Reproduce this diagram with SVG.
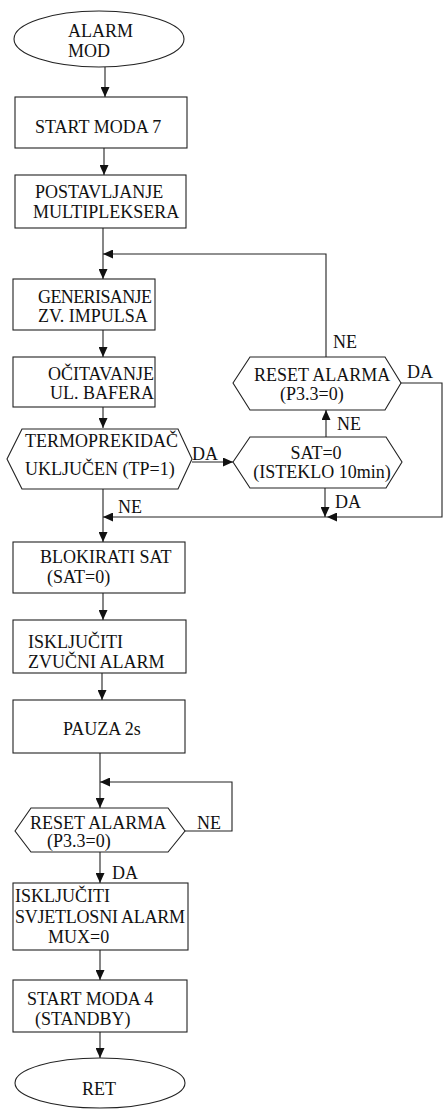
<svg xmlns="http://www.w3.org/2000/svg" width="443" height="1111" viewBox="0 0 443 1111">
<defs>
<marker id="ah" markerUnits="userSpaceOnUse" markerWidth="10" markerHeight="9" refX="10" refY="4.5" orient="auto">
<path d="M0,0 L10,4.5 L0,9 z" fill="#111"/>
</marker>
<style>
.s{fill:#fff;stroke:#222;stroke-width:1.1}
.c{fill:none;stroke:#222;stroke-width:1.1}
.a{marker-end:url(#ah)}
text{font-family:"Liberation Serif","Times New Roman",serif;font-size:18px;fill:#111}
</style>
</defs>
<rect width="443" height="1111" fill="#fff"/>
<g id="connectors">
<line class="c a" x1="105" y1="67" x2="105" y2="97"/>
<line class="c a" x1="104" y1="148" x2="104" y2="175"/>
<line class="c a" x1="103" y1="228" x2="103" y2="279"/>
<polyline class="c a" points="326,357 326,254 103,254"/>
<line class="c a" x1="103" y1="330" x2="103" y2="357"/>
<line class="c a" x1="103" y1="407" x2="103" y2="428"/>
<line class="c a" x1="192" y1="462" x2="233" y2="462"/>
<line class="c a" x1="326" y1="437" x2="326" y2="410"/>
<polyline class="c a" points="401,383 442,383 442,517 327,517"/>
<line class="c a" x1="327" y1="517" x2="103" y2="517"/>
<line class="c a" x1="325" y1="488" x2="325" y2="517"/>
<line class="c a" x1="103" y1="489" x2="103" y2="542"/>
<line class="c a" x1="103" y1="593" x2="103" y2="620"/>
<line class="c a" x1="102" y1="673" x2="102" y2="700"/>
<line class="c a" x1="100" y1="753" x2="100" y2="808"/>
<polyline class="c a" points="185,831 232,831 232,782 100,782"/>
<line class="c a" x1="100" y1="852" x2="100" y2="883"/>
<line class="c a" x1="100" y1="950" x2="100" y2="980"/>
<line class="c a" x1="100" y1="1032" x2="100" y2="1058"/>
<text x="192" y="460">DA</text>
<text x="333" y="348">NE</text>
<text x="407" y="378">DA</text>
<text x="337" y="430">NE</text>
<text x="335" y="508">DA</text>
<text x="118" y="513">NE</text>
<text x="197" y="829">NE</text>
<text x="112" y="879">DA</text>
</g>
<g id="n-alarm-mod">
<ellipse class="s" cx="99" cy="39" rx="85" ry="28"/>
<text x="68" y="37">ALARM</text>
<text x="68" y="57">MOD</text>
</g>
<g id="n-start7">
<rect class="s" x="15" y="97" width="172" height="51"/>
<text x="35" y="133">START MODA 7</text>
</g>
<g id="n-postavljanje">
<rect class="s" x="15" y="175" width="171" height="53"/>
<text x="35" y="198">POSTAVLJANJE</text>
<text x="33" y="218">MULTIPLEKSERA</text>
</g>
<g id="n-generisanje">
<rect class="s" x="13" y="279" width="142" height="51"/>
<text x="38" y="303" textLength="114">GENERISANJE</text>
<text x="38" y="322">ZV. IMPULSA</text>
</g>
<g id="n-ocitavanje">
<rect class="s" x="13" y="357" width="142" height="50"/>
<text x="48" y="380">OČITAVANJE</text>
<text x="50" y="399">UL. BAFERA</text>
</g>
<g id="n-termoprekidac">
<polygon class="s" points="7,459 22,429 178,429 192,459 178,489 22,489"/>
<text x="25" y="447">TERMOPREKIDAČ</text>
<text x="25" y="475">UKLJUČEN (TP=1)</text>
</g>
<g id="n-reset1">
<polygon class="s" points="233,383 250,357 385,357 401,383 385,410 250,410"/>
<text x="254" y="381">RESET ALARMA</text>
<text x="280" y="400">(P3.3=0)</text>
</g>
<g id="n-sat">
<polygon class="s" points="233,462 250,437 386,437 402,462 386,488 250,488"/>
<text x="316" y="459" text-anchor="middle">SAT=0</text>
<text x="322" y="478" text-anchor="middle">(ISTEKLO 10min)</text>
</g>
<g id="n-blokirati">
<rect class="s" x="13" y="542" width="172" height="51"/>
<text x="40" y="563">BLOKIRATI SAT</text>
<text x="47" y="583">(SAT=0)</text>
</g>
<g id="n-iskljuciti-zvucni">
<rect class="s" x="13" y="620" width="173" height="53"/>
<text x="28" y="648">ISKLJUČITI</text>
<text x="28" y="668">ZVUČNI ALARM</text>
</g>
<g id="n-pauza">
<rect class="s" x="13" y="700" width="172" height="53"/>
<text x="63" y="735">PAUZA 2s</text>
</g>
<g id="n-reset2">
<polygon class="s" points="15,831 31,808 168,808 185,831 168,852 31,852"/>
<text x="30" y="829">RESET ALARMA</text>
<text x="47" y="847">(P3.3=0)</text>
</g>
<g id="n-iskljuciti-svjetlosni">
<rect class="s" x="13" y="883" width="175" height="67"/>
<text x="15" y="902">ISKLJUČITI</text>
<text x="15" y="923" textLength="170">SVJETLOSNI ALARM</text>
<text x="48" y="943">MUX=0</text>
</g>
<g id="n-start4">
<rect class="s" x="13" y="980" width="174" height="52"/>
<text x="27" y="1005">START MODA 4</text>
<text x="35" y="1025">(STANDBY)</text>
</g>
<g id="n-ret">
<ellipse class="s" cx="100" cy="1083" rx="85" ry="25"/>
<text x="82" y="1095">RET</text>
</g>
</svg>
